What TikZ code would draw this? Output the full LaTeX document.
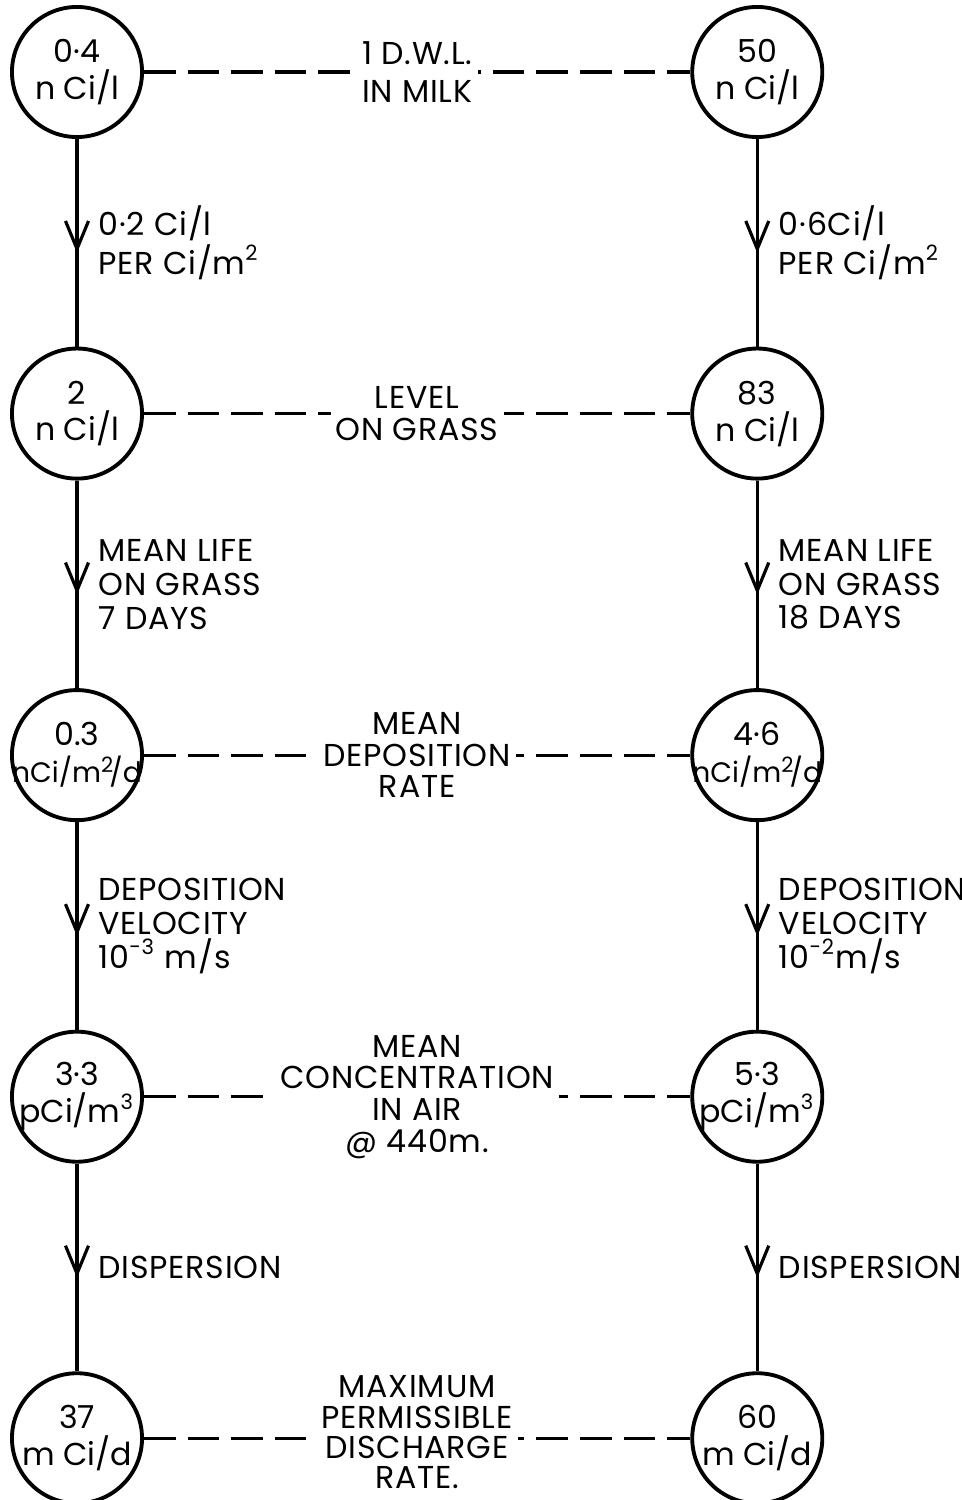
\documentclass[tikz,border=0pt]{standalone}
\usepackage{fontspec}
\setmainfont{Poppins}
\newfontfamily\notefont{Poppins}[LetterSpace=2.5]
\usetikzlibrary{positioning,arrows.meta,decorations.markings}

\begin{document}
\begin{tikzpicture}[
    x=0.01cm, y=-0.01cm,
    node distance=2.075cm and 5.46cm,
    level/.style={circle, draw, line width=1.1pt, minimum size=1.3cm,
      inner sep=0pt},
    reading/.style={align=center, inner sep=0pt,
      font=\fontsize{9}{10.5}\selectfont},
    note/.style={fill=white, inner sep=1.5pt, align=center,
      font=\notefont\fontsize{9}{9}\selectfont},
    side/.style={anchor=west, xshift=0.2cm, inner sep=0pt, align=left,
      font=\notefont\fontsize{9}{9.6}\selectfont},
    link/.style={line width=0.9pt, dash pattern=on 9pt off 3.4pt},
    flow/.style={line width=0.9pt, postaction={decorate},
      decoration={markings, mark=at position 0.55 with
        {\arrow{Straight Barb[length=2.8mm,width=2.3mm]}}}}
  ]
    \useasboundingbox (0,0) rectangle (962,1500);

    % left column
    \node[level, label={[reading]center:0·4\\n Ci/l}] at (77,72) (l1) {};
    \node[level, below=of l1, label={[reading]center:2\\n Ci/l}] (l2) {};
    \node[level, below=of l2, label={[reading]center:0.3\\
      {\fontsize{8}{10}\selectfont nCi/m\textsuperscript{2}\kern-0.2em/d}}] (l3) {};
    \node[level, below=of l3, label={[reading]center:3·3\\
      pCi/m\textsuperscript{3}}] (l4) {};
    \node[level, below=of l4, label={[reading]center:37\\m Ci/d}] (l5) {};

    % right column
    \node[level, right=of l1, label={[reading]center:50\\n Ci/l}] (r1) {};
    \node[level, right=of l2, label={[reading]center:83\\n Ci/l}] (r2) {};
    \node[level, right=of l3, label={[reading]center:4·6\\
      {\fontsize{8}{10}\selectfont nCi/m\textsuperscript{2}\kern-0.2em/d}}] (r3) {};
    \node[level, right=of l4, label={[reading]center:5·3\\
      pCi/m\textsuperscript{3}}] (r4) {};
    \node[level, right=of l5, label={[reading]center:60\\m Ci/d}] (r5) {};

    \draw[link] (l1) -- node[note] {1 D.W.L.\\[2pt]IN MILK} (r1);
    \draw[link] (l2) -- node[note] {LEVEL\\ON GRASS} (r2);
    \draw[link] (l3) -- node[note] {MEAN\\DEPOSITION\\RATE} (r3);
    \draw[link] (l4) -- node[note] {MEAN\\CONCENTRATION\\IN AIR\\@ 440m.} (r4);
    \draw[link] (l5) -- node[note, yshift=0.06cm,
      font=\notefont\fontsize{9}{8.6}\selectfont]
      {MAXIMUM\\PERMISSIBLE\\DISCHARGE\\RATE.} (r5);

    \draw[flow] (l1) -- node[side] {0·2 Ci/l\\PER Ci/m\textsuperscript{2}} (l2);
    \draw[flow] (l2) -- node[side] {MEAN LIFE\\ON GRASS\\7 DAYS} (l3);
    \draw[flow] (l3) -- node[side] {DEPOSITION\\VELOCITY\\10\textsuperscript{-3} m/s} (l4);
    \draw[flow] (l4) -- node[side] {DISPERSION} (l5);

    \draw[flow] (r1) -- node[side] {0·6Ci/l\\PER Ci/m\textsuperscript{2}} (r2);
    \draw[flow] (r2) -- node[side] {MEAN LIFE\\ON GRASS\\18 DAYS} (r3);
    \draw[flow] (r3) -- node[side] {DEPOSITION\\VELOCITY\\10\textsuperscript{-2}m/s} (r4);
    \draw[flow] (r4) -- node[side] {DISPERSION} (r5);
  \end{tikzpicture}
\end{document}
